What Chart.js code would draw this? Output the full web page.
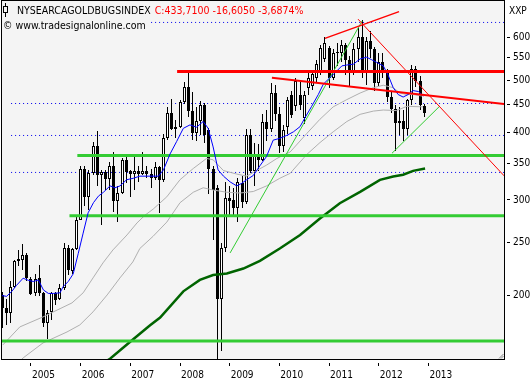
<!DOCTYPE html>
<html><head><meta charset="utf-8">
<script src="https://cdn.jsdelivr.net/npm/chart.js@4/dist/chart.umd.min.js"></script>
<style>html,body{margin:0;padding:0;background:#fff}canvas{display:block}</style>
</head><body>
<canvas id="c" width="532" height="380"></canvas>
<script>
// Monthly candles, Jun 2004 (index 0) .. Dec 2012 (index 102)
const opens  = [200,189,185.5,207.5,231,232,237,214,201.5,215,201.5,178,186,201.5,197,206,245,222,243,276,
  342,304,336,377,333,338,328,347,299,309,356,339,335,340,335,340,335,330,345,327,
  390,434,406,409,456,485,438,399,420,450,404,343,316,197,245,302,300,290,322,298,
  396,340,361,356,419,405,473,432,377,410,470,447,470,426,484,487,505,519,547,573,
  505,560,560,580,545,515,570,600,520,590,570,494,540,520,465,441,416,420,405,459,
  525,498,447];
const highs  = [203,197,212,232,242,249,239,216,219,227,203,188,203,203,210,249.5,248,244,279,346,
  346,341,384,402,341,341,353,368,318,358,361,341,361,347,368,346,343,353,347,397,
  446,462,422,459,496,519,475,446,457,454,408,347,320,250,324,318,316,330,332,406,
  406,383,381,432,440,493,490,446,413,465,478,505,500,478,515,522,545,580,600,578,
  570,585,592,585,555,585,625,645,600,615,575,560,560,525,475,450,445,440,462,532,
  530,508,452];
const lows   = [174,176,177.5,206,226,223,212,200,199,199,175,166,180,192,196,204.5,218,219,242.5,275,
  293,288,334,318,270,313,313,285,273,308,322,304,313,324,334,330,316,327,284,324,
  387,404,391,408,452,428,387,386,396,383,308,253,150,158,240,280,280,273,290,295,
  337,318,340,354,385,400,420,366,368,398,425,438,440,415,470,480,495,510,540,484,
  500,530,540,510,488,510,540,505,490,550,478,488,505,455,435,369,395,385,395,450,
  485,440,427];
const closes = [189,185.5,207.5,231,233,237,215,201,214,201.5,178,185.5,201.5,196,206,245,223,243,276,342,
  304,336,377,333,338,328,347,299,309,356,338,335,340,335,340,335,330,345,327,390,
  434,406,409,456,485,438,399,420,450,396,343,313,197,245,302,299,290,324,298,396,
  340,361,356,419,405,473,432,377,404,460,431,498,450,470,505,512,535,572,585,505,
  560,560,580,545,515,570,600,520,590,570,494,540,520,465,441,416,420,405,459,525,
  498,450.3,433.71];

const yearTickIdx = [7,19,31,43,55,67,79,91,103];
const yearLabels  = ['2005','2006','2007','2008','2009','2010','2011','2012','2013'];
const priceTicks  = [200,250,300,350,400,450,500,550,600];

// Overlay lines (month index, price)
const blueK = [-0.5,1.1,2.3,3.5,5.1,6.4,7.6,8.8,10,11.2,12.4,14,14.8,16,17.2,18.4,19.6,20.8,22.1,23.3,24.5,26.1,27.3,28.5,30.1,31.7,33.3,37.8,39,40.6,42.2,43.8,45.4,47,48.6,49.8,51,52.2,53.5,55.1,56.7,57.9,59.1,60.7,62.3,63.9,65.5,67.1,68.8,70.4,72,73.2,74.8,76.4,77.6,79.2,80.8,82.1,83.3,84.9,86.5,88.1,89.3,90.5,92.1,93.3,94.5,95.7,96.9,98.1,99.3,100.6,101.8];
const blueV = [200,199,203,208.5,215,213,212,213.4,204.5,201.5,201.5,202,207.5,212,219,238.6,260.5,284,296.6,305,310,318.5,316,318.5,327,329,332,332,341,365,385,407,413,409,419,407,376,341,332,324,318.5,322,327,333,347,361,387,390,395,401,410,426,447,470,491,505,519,531,533,535,547,551,545,539,531,510,484,470,465,470,478,476,467];
const greyUpK = [0.2,4.3,9.9,13.5,16.9,19.6,22,24.4,26.8,30.2,32.6,34.5,36.5,39.8,43,46.2,49.4,51,53.5,56.7,59.1,61.5,63.9,66.4,69.6,73.6,76.8,80,83.3,86.5,89.7,92.1,94.5,96.1,97.8,99.3,101.5];
const greyUpV = [161.8,174.7,182.3,188,193.5,202,215.3,229.5,242.5,258.5,272,281,288.5,304,327,343,358,356,340,335,332,340,348,358,368,398,423,446,460,473,484,489,484,473,470,470,467];
const greyLoK = [3.1,5.1,9.9,15.7,18.8,22,25.4,28.5,31.6,33.3,36.5,39.8,43,46.2,48.6,51,54.3,57.5,60.7,63.9,67.1,69.6,73.6,76.8,80,83.3,86.5,89.7,92.1,95.3,97.8,101.7];
const greyLoV = [148,153.1,163.2,171,176.2,186.3,200.2,215.3,230.4,244,257,273,296.5,310,316,313,310,309,311,318.5,329,336,364,383,401,419,432,438,440,439,447,446];
const longMaK = [24.9,26.1,30.9,35.7,38.2,43.8,47.8,51,54.3,58.3,62.3,67.1,72,76.8,81.6,86.5,91.3,94.5,96.9,99.3,102.2];
const longMaV = [150.5,152.6,163.8,175.8,181.8,203.3,213.4,217.9,219.4,224,231.4,244,258.4,277.2,295.8,310.5,326.8,331.5,334,339.6,343];

const dottedLevels = [638.9,452.4,394.8,337.3];
const redLevel = 518.4,   redLevelFrom = 42.3;
const greenLevels = [362.5,280.6,164.6];
const greenLevelsFrom = [18.2,16.3,-1];
// trend lines: [k1, v1, k2, v2]
const redTop   = [78.0,597,95.9,669];
const redSteep = [86.0,648,121.3,332.4];
const redFlat  = [65.2,504.6,121.3,451.6];
const greenUp1 = [55.1,239.4,87.0,643];
const greenUp2 = [94.2,366,105.8,447.8];

const titleName = 'NYSEARCAGOLDBUGSINDEX';
const titleQuote = 'C:433,7100 -16,6050 -3,6874%';
const copyright = '\u00A9 www.tradesignalonline.com';
const unitLabel = 'XXP';

const X_MAX = 121.26, Y_MIN = 152.4, Y_MAX = 700;
const FONT = "'DejaVu Sans Condensed','DejaVu Sans',sans-serif";
Chart.defaults.font.family = FONT;
Chart.defaults.font.size = 10;
Chart.defaults.color = '#000';

const pts = (ks, vs) => ks.map((k, i) => ({x: k, y: vs[i]}));
const seg = a => [{x: a[0], y: a[1]}, {x: a[2], y: a[3]}];
const line = (data, color, width, order, dash) => ({
  type: 'line', data, borderColor: color, borderWidth: width, pointRadius: 0,
  fill: false, tension: 0, order, borderDash: dash || [], clip: 0
});

const datasets = [];
dottedLevels.forEach(v => datasets.push(line([{x: 2.2, y: v}, {x: 125, y: v}], '#0000ee', 1, 200, [1, 3])));
datasets.push({
  type: 'bar', data: opens.map((o, i) => ({x: i, y: [lows[i], highs[i]]})),
  backgroundColor: '#000', borderWidth: 0, barThickness: 1, grouped: false,
  order: 60, inflateAmount: 0, clip: 0
});
datasets.push({
  type: 'bar', data: opens.map((o, i) => ({x: i, y: [o, closes[i]]})),
  backgroundColor: opens.map((o, i) => closes[i] >= o ? '#ffffff' : '#000000'),
  borderColor: '#000', borderWidth: 1, borderSkipped: false, barThickness: 3,
  grouped: false, minBarLength: 1, order: 59, inflateAmount: 0, clip: 0
});
datasets.push(line(pts(greyLoK, greyLoV), '#b0b0b0', 1, 20));
datasets.push(line(pts(greyUpK, greyUpV), '#b0b0b0', 1, 19));
datasets.push(line(pts(longMaK, longMaV), '#006400', 2.5, 18));
greenLevels.forEach((v, i) => datasets.push(line([{x: greenLevelsFrom[i], y: v}, {x: 125, y: v}], '#33cc33', 3, 15)));
datasets.push(line(seg(greenUp1), '#33cc33', 1, 14));
datasets.push(line(seg(greenUp2), '#33cc33', 1, 14));
datasets.push(line(pts(blueK, blueV), '#0000ff', 1, 12));
datasets.push(line([{x: redLevelFrom, y: redLevel}, {x: 125, y: redLevel}], '#ff0000', 3, 10));
datasets.push(line(seg(redFlat), '#ff0000', 2, 9));
datasets.push(line(seg(redTop), '#ff0000', 1.5, 9));
datasets.push(line(seg(redSteep), '#ff0000', 1, 9));

// Snap the library-computed candle elements to whole pixels for crisp edges
const snapBars = {
  id: 'snapBars',
  beforeDatasetsDraw(chart) {
    chart.getSortedVisibleDatasetMetas().forEach(meta => {
      if (meta.type !== 'bar') return;
      meta.data.forEach(el => {
        el.x = Math.floor(el.x) + 0.5;
        el.y = Math.round(el.y);
        el.base = Math.round(el.base);
        if (Math.abs(el.y - el.base) < 1) el.y = el.base - 1;
      });
    });
  }
};

const decor = {
  id: 'decor',
  beforeDraw(chart) {
    const {ctx, chartArea: a} = chart;
    ctx.save();
    ctx.fillStyle = '#ffffff';
    ctx.fillRect(0, 0, chart.width, chart.height);
    ctx.fillStyle = '#f4f4f4';
    ctx.fillRect(a.left, a.top, a.right - a.left, a.bottom - a.top);
    ctx.restore();
  },
  afterDatasetsDraw(chart) {
    const {ctx, chartArea: a} = chart;
    ctx.save();
    ctx.strokeStyle = '#000';
    ctx.lineWidth = 1;
    ctx.strokeRect(a.left - 0.5, a.top - 0.5, a.right - a.left + 1, a.bottom - a.top + 1);
    ctx.font = '10.5px ' + FONT;
    ctx.textBaseline = 'alphabetic';
    ctx.textAlign = 'left';
    ctx.fillStyle = '#f4f4f4';
    ctx.fillRect(3, 19, 147, 12);
    ctx.fillStyle = '#000';
    ctx.fillText(copyright, 3, 29);
    ctx.fillText(titleName, 17, 14);
    const w = ctx.measureText(titleName).width;
    ctx.fillStyle = '#ff0000';
    ctx.fillText(titleQuote, 17 + w + 4, 14);
    // small candle icon
    ctx.fillStyle = '#000';
    ctx.fillRect(5, 3, 1, 14);
    ctx.fillStyle = '#f4f4f4';
    ctx.fillRect(3.5, 6.5, 4, 6);
    ctx.strokeRect(3.5, 6.5, 4, 6);
    ctx.font = '10px ' + FONT;
    ctx.fillStyle = '#000';
    ctx.fillText(unitLabel, 509, 14);
    // resize grip in the lower right corner
    ctx.strokeStyle = '#888';
    ctx.beginPath();
    ctx.moveTo(a.right - 5, a.bottom - 0.5); ctx.lineTo(a.right - 0.5, a.bottom - 5);
    ctx.moveTo(a.right - 3, a.bottom - 0.5); ctx.lineTo(a.right - 0.5, a.bottom - 3);
    ctx.stroke();
    ctx.restore();
  }
};

new Chart(document.getElementById('c'), {
  type: 'bar',
  data: {datasets},
  options: {
    responsive: false, maintainAspectRatio: false, devicePixelRatio: 1,
    animation: false, events: [],
    layout: {padding: {left: 2, top: 1, right: 0, bottom: 0}},
    plugins: {legend: {display: false}, tooltip: {enabled: false}, title: {display: false}},
    scales: {
      x: {
        type: 'linear', min: 0, max: X_MAX, offset: false,
        grid: {drawOnChartArea: false, offset: false, drawTicks: true, tickLength: 7, tickColor: '#000', tickWidth: 1, tickBorderDash: [0, 4, 3, 50]},
        border: {display: false},
        afterBuildTicks: s => { s.ticks = yearTickIdx.map(v => ({value: v})); },
        afterFit: s => { s.height = 21; s.paddingLeft = 0; s.paddingRight = 0; },
        ticks: {
          autoSkip: false, maxRotation: 0, minRotation: 0, align: 'start', labelOffset: 1, padding: 3,
          color: '#000', font: {size: 10},
          callback: v => { const i = yearTickIdx.indexOf(v); return i >= 0 ? yearLabels[i] : ''; }
        }
      },
      y: {
        type: 'logarithmic', position: 'right', min: Y_MIN, max: Y_MAX,
        grid: {drawOnChartArea: false, drawTicks: true, tickLength: 6, tickColor: '#000', tickWidth: 1, tickBorderDash: [0, 3, 3, 50]},
        border: {display: false},
        afterBuildTicks: s => { s.ticks = priceTicks.map(v => ({value: v})); },
        afterFit: s => { s.width = 28; s.paddingTop = 0; s.paddingBottom = 0; },
        ticks: {autoSkip: false, padding: 3, color: '#000', font: {size: 10}, callback: v => String(v)}
      }
    }
  },
  plugins: [decor, snapBars]
});
</script>
</body></html>
